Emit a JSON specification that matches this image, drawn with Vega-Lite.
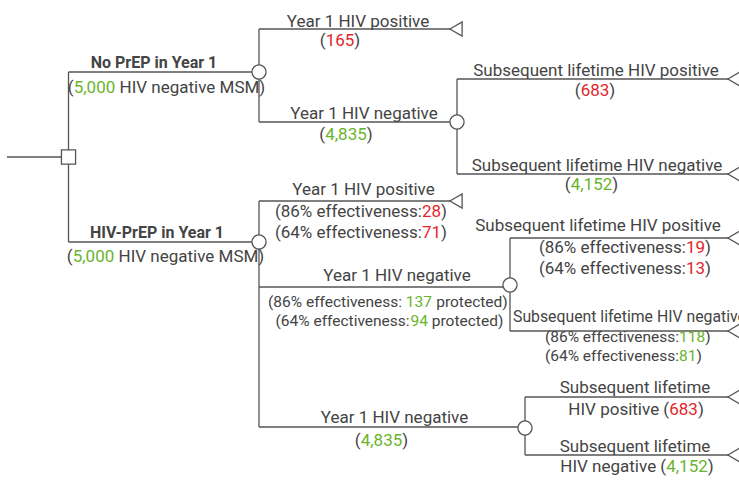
{
  "$schema": "https://vega.github.io/schema/vega-lite/v6.json",
  "width": 739,
  "height": 480,
  "autosize": {"type": "none"},
  "padding": 0,
  "background": "white",
  "config": {"view": {"stroke": null}, "text": {"font": "Roboto", "baseline": "alphabetic"}},
  "datasets": {
    "edges": [
      {"x": 7, "y": 157, "x2": 68.5, "y2": 157},
      {"x": 68.5, "y": 72, "x2": 68.5, "y2": 242},
      {"x": 68.5, "y": 72, "x2": 259, "y2": 72},
      {"x": 68.5, "y": 242, "x2": 259, "y2": 242},
      {"x": 259, "y": 29, "x2": 259, "y2": 122},
      {"x": 259, "y": 29, "x2": 450, "y2": 29},
      {"x": 259, "y": 122, "x2": 457, "y2": 122},
      {"x": 457, "y": 79, "x2": 457, "y2": 174},
      {"x": 457, "y": 79, "x2": 728, "y2": 79},
      {"x": 457, "y": 174, "x2": 728, "y2": 174},
      {"x": 259, "y": 201, "x2": 259, "y2": 427},
      {"x": 259, "y": 201, "x2": 450, "y2": 201},
      {"x": 259, "y": 287, "x2": 510, "y2": 287},
      {"x": 510, "y": 238, "x2": 510, "y2": 331},
      {"x": 510, "y": 238, "x2": 728, "y2": 238},
      {"x": 510, "y": 331, "x2": 728, "y2": 331},
      {"x": 259, "y": 427, "x2": 525, "y2": 427},
      {"x": 525, "y": 397, "x2": 525, "y2": 455},
      {"x": 525, "y": 397, "x2": 728, "y2": 397},
      {"x": 525, "y": 455, "x2": 728, "y2": 455}
    ],
    "nodes": [
      {"x": 68.5, "y": 157, "node": "decision"},
      {"x": 259, "y": 72, "node": "chance"},
      {"x": 457, "y": 122, "node": "chance"},
      {"x": 259, "y": 242, "node": "chance"},
      {"x": 510, "y": 285, "node": "chance"},
      {"x": 525, "y": 428, "node": "chance"},
      {"x": 456, "y": 29, "node": "terminal"},
      {"x": 734, "y": 79, "node": "terminal"},
      {"x": 734, "y": 174, "node": "terminal"},
      {"x": 456, "y": 201, "node": "terminal"},
      {"x": 734, "y": 238, "node": "terminal"},
      {"x": 734, "y": 331, "node": "terminal"},
      {"x": 734, "y": 397, "node": "terminal"},
      {"x": 734, "y": 455, "node": "terminal"}
    ],
    "headings": [
      {"x": 154, "y": 68, "text": "No PrEP in Year 1"},
      {"x": 157, "y": 238, "text": "HIV-PrEP in Year 1"}
    ],
    "labels": [
      {"x": 73.7, "y": 93, "text": "(", "tone": "text", "part": "lead", "level": "main"},
      {"x": 73.7, "y": 93, "text": "5,000", "tone": "negative", "part": "value", "level": "main"},
      {"x": 119.5, "y": 93, "text": "HIV negative MSM)", "tone": "text", "part": "tail", "level": "main"},

      {"x": 72.7, "y": 262, "text": "(", "tone": "text", "part": "lead", "level": "main"},
      {"x": 72.7, "y": 262, "text": "5,000", "tone": "negative", "part": "value", "level": "main"},
      {"x": 118.5, "y": 262, "text": "HIV negative MSM)", "tone": "text", "part": "tail", "level": "main"},

      {"x": 358, "y": 27, "text": "Year 1 HIV positive", "tone": "text", "part": "center", "level": "main"},
      {"x": 325.7, "y": 46, "text": "(", "tone": "text", "part": "lead", "level": "main"},
      {"x": 325.7, "y": 46, "text": "165", "tone": "positive", "part": "value", "level": "main"},
      {"x": 354.3, "y": 46, "text": ")", "tone": "text", "part": "tail", "level": "main"},

      {"x": 364, "y": 119, "text": "Year 1 HIV negative", "tone": "text", "part": "center", "level": "main"},
      {"x": 325.2, "y": 140, "text": "(", "tone": "text", "part": "lead", "level": "main"},
      {"x": 325.2, "y": 140, "text": "4,835", "tone": "negative", "part": "value", "level": "main"},
      {"x": 366.8, "y": 140, "text": ")", "tone": "text", "part": "tail", "level": "main"},

      {"x": 596, "y": 76, "text": "Subsequent lifetime HIV positive", "tone": "text", "part": "center", "level": "main"},
      {"x": 580.7, "y": 96, "text": "(", "tone": "text", "part": "lead", "level": "main"},
      {"x": 580.7, "y": 96, "text": "683", "tone": "positive", "part": "value", "level": "main"},
      {"x": 609.3, "y": 96, "text": ")", "tone": "text", "part": "tail", "level": "main"},

      {"x": 597, "y": 171, "text": "Subsequent lifetime HIV negative", "tone": "text", "part": "center", "level": "main"},
      {"x": 570.7, "y": 190, "text": "(", "tone": "text", "part": "lead", "level": "main"},
      {"x": 570.7, "y": 190, "text": "4,152", "tone": "negative", "part": "value", "level": "main"},
      {"x": 612.3, "y": 190, "text": ")", "tone": "text", "part": "tail", "level": "main"},

      {"x": 363.5, "y": 195, "text": "Year 1 HIV positive", "tone": "text", "part": "center", "level": "main"},
      {"x": 422, "y": 217, "text": "(86% effectiveness:", "tone": "text", "part": "lead", "level": "main"},
      {"x": 422, "y": 217, "text": "28", "tone": "positive", "part": "value", "level": "main"},
      {"x": 441.1, "y": 217, "text": ")", "tone": "text", "part": "tail", "level": "main"},
      {"x": 422, "y": 238, "text": "(64% effectiveness:", "tone": "text", "part": "lead", "level": "main"},
      {"x": 422, "y": 238, "text": "71", "tone": "positive", "part": "value", "level": "main"},
      {"x": 441.1, "y": 238, "text": ")", "tone": "text", "part": "tail", "level": "main"},

      {"x": 397, "y": 281, "text": "Year 1 HIV negative", "tone": "text", "part": "center", "level": "main"},
      {"x": 402.1, "y": 307, "text": "(86% effectiveness:", "tone": "text", "part": "lead", "level": "detail"},
      {"x": 405.8, "y": 307, "text": "137", "tone": "negative", "part": "value", "level": "detail"},
      {"x": 436.2, "y": 307, "text": "protected)", "tone": "text", "part": "tail", "level": "detail"},
      {"x": 409.6, "y": 326, "text": "(64% effectiveness:", "tone": "text", "part": "lead", "level": "detail"},
      {"x": 410.6, "y": 326, "text": "94", "tone": "negative", "part": "value", "level": "detail"},
      {"x": 431.8, "y": 326, "text": "protected)", "tone": "text", "part": "tail", "level": "detail"},

      {"x": 598, "y": 231, "text": "Subsequent lifetime HIV positive", "tone": "text", "part": "center", "level": "main"},
      {"x": 686, "y": 253, "text": "(86% effectiveness:", "tone": "text", "part": "lead", "level": "main"},
      {"x": 686, "y": 253, "text": "19", "tone": "positive", "part": "value", "level": "main"},
      {"x": 705.1, "y": 253, "text": ")", "tone": "text", "part": "tail", "level": "main"},
      {"x": 686, "y": 274, "text": "(64% effectiveness:", "tone": "text", "part": "lead", "level": "main"},
      {"x": 686, "y": 274, "text": "13", "tone": "positive", "part": "value", "level": "main"},
      {"x": 705.1, "y": 274, "text": ")", "tone": "text", "part": "tail", "level": "main"},

      {"x": 513, "y": 322, "text": "Subsequent lifetime HIV negative", "tone": "text", "part": "flush", "level": "main"},
      {"x": 679, "y": 342, "text": "(86% effectiveness:", "tone": "text", "part": "lead", "level": "detail"},
      {"x": 679, "y": 342, "text": "118", "tone": "negative", "part": "value", "level": "detail"},
      {"x": 705.2, "y": 342, "text": ")", "tone": "text", "part": "tail", "level": "detail"},
      {"x": 679, "y": 361, "text": "(64% effectiveness:", "tone": "text", "part": "lead", "level": "detail"},
      {"x": 679, "y": 361, "text": "81", "tone": "negative", "part": "value", "level": "detail"},
      {"x": 696.4, "y": 361, "text": ")", "tone": "text", "part": "tail", "level": "detail"},

      {"x": 394.5, "y": 423, "text": "Year 1 HIV negative", "tone": "text", "part": "center", "level": "main"},
      {"x": 360.7, "y": 446, "text": "(", "tone": "text", "part": "lead", "level": "main"},
      {"x": 360.7, "y": 446, "text": "4,835", "tone": "negative", "part": "value", "level": "main"},
      {"x": 402.3, "y": 446, "text": ")", "tone": "text", "part": "tail", "level": "main"},

      {"x": 635, "y": 393, "text": "Subsequent lifetime", "tone": "text", "part": "center", "level": "main"},
      {"x": 669.2, "y": 415, "text": "HIV positive (", "tone": "text", "part": "lead", "level": "main"},
      {"x": 669.2, "y": 415, "text": "683", "tone": "positive", "part": "value", "level": "main"},
      {"x": 697.9, "y": 415, "text": ")", "tone": "text", "part": "tail", "level": "main"},

      {"x": 635, "y": 452, "text": "Subsequent lifetime", "tone": "text", "part": "center", "level": "main"},
      {"x": 666.2, "y": 472, "text": "HIV negative (", "tone": "text", "part": "lead", "level": "main"},
      {"x": 666.2, "y": 472, "text": "4,152", "tone": "negative", "part": "value", "level": "main"},
      {"x": 707.8, "y": 472, "text": ")", "tone": "text", "part": "tail", "level": "main"}
    ]
  },
  "encoding": {
    "x": {"field": "x", "type": "quantitative", "axis": null, "scale": {"domain": [0, 739], "nice": false, "zero": false}},
    "y": {"field": "y", "type": "quantitative", "axis": null, "scale": {"domain": [0, 480], "nice": false, "zero": false, "reverse": true}}
  },
  "layer": [
    {
      "data": {"name": "edges"},
      "mark": {"type": "rule", "color": "#555555", "strokeWidth": 1.3},
      "encoding": {"x2": {"field": "x2"}, "y2": {"field": "y2"}}
    },
    {
      "data": {"name": "nodes"},
      "mark": {"type": "point", "filled": true, "fill": "white", "stroke": "#555555", "strokeWidth": 1.3, "size": 200, "opacity": 1},
      "encoding": {
        "shape": {"field": "node", "type": "nominal", "legend": null, "scale": {"domain": ["decision", "chance", "terminal"], "range": ["square", "circle", "triangle-left"]}}
      }
    },
    {
      "data": {"name": "headings"},
      "mark": {"type": "text", "align": "center", "fontWeight": "bold", "fontSize": 16, "color": "#444444"},
      "encoding": {"text": {"field": "text"}}
    },
    {
      "data": {"name": "labels"},
      "transform": [{"filter": "datum.part === 'flush'"}],
      "mark": {"type": "text", "align": "left", "fontSize": 15.8, "color": "#444444"},
      "encoding": {"text": {"field": "text"}}
    },
    {
      "data": {"name": "labels"},
      "transform": [{"filter": "datum.part === 'center'"}],
      "mark": {"type": "text", "align": "center"},
      "encoding": {
        "text": {"field": "text"},
        "color": {"field": "tone", "type": "nominal", "legend": null, "scale": {"domain": ["text", "positive", "negative"], "range": ["#444444", "#e3262b", "#6ab42d"]}},
        "size": {"field": "level", "type": "nominal", "legend": null, "scale": {"domain": ["detail", "main"], "range": [15.5, 17]}}
      }
    },
    {
      "data": {"name": "labels"},
      "transform": [{"filter": "datum.part === 'lead'"}],
      "mark": {"type": "text", "align": "right"},
      "encoding": {
        "text": {"field": "text"},
        "color": {"field": "tone", "type": "nominal", "legend": null, "scale": {"domain": ["text", "positive", "negative"], "range": ["#444444", "#e3262b", "#6ab42d"]}},
        "size": {"field": "level", "type": "nominal", "legend": null, "scale": {"domain": ["detail", "main"], "range": [15.5, 17]}}
      }
    },
    {
      "data": {"name": "labels"},
      "transform": [{"filter": "datum.part === 'value' || datum.part === 'tail'"}],
      "mark": {"type": "text", "align": "left"},
      "encoding": {
        "text": {"field": "text"},
        "color": {"field": "tone", "type": "nominal", "legend": null, "scale": {"domain": ["text", "positive", "negative"], "range": ["#444444", "#e3262b", "#6ab42d"]}},
        "size": {"field": "level", "type": "nominal", "legend": null, "scale": {"domain": ["detail", "main"], "range": [15.5, 17]}}
      }
    }
  ]
}
